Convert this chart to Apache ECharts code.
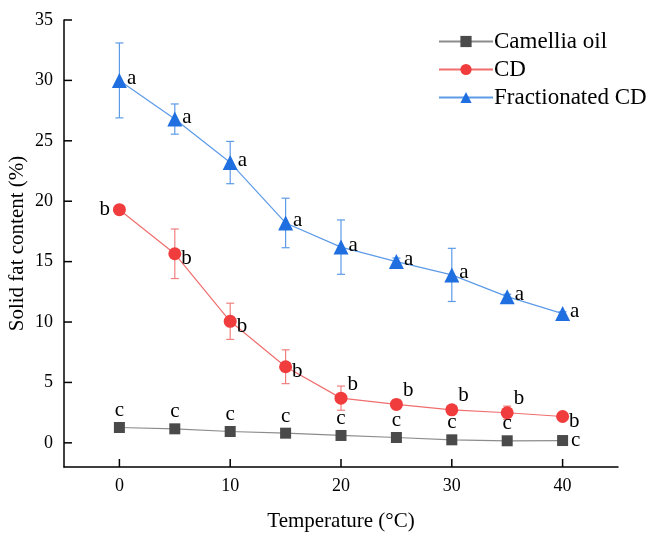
<!DOCTYPE html>
<html>
<head>
<meta charset="utf-8">
<script src="https://cdn.jsdelivr.net/npm/echarts@6/dist/echarts.min.js"></script>
<style>
  html, body { margin: 0; padding: 0; background: #fff; }
  #main { width: 649px; height: 535px; }
</style>
</head>
<body>
<div id="main"></div>
<script>
    var temps = [0, 5, 10, 15, 20, 25, 30, 35, 40];

    var camelliaVals = [1.27, 1.16, 0.94, 0.80, 0.61, 0.44, 0.25, 0.17, 0.19];
    var camelliaErr  = [0, 0, 0, 0, 0, 0, 0, 0, 0];
    var camelliaTags = ['c', 'c', 'c', 'c', 'c', 'c', 'c', 'c', 'c'];

    var cdVals = [19.3, 15.65, 10.06, 6.3, 3.7, 3.18, 2.73, 2.49, 2.18];
    var cdErr  = [0.15, 2.05, 1.5, 1.4, 1.0, 0.4, 0.15, 0.55, 0.1];
    var cdTags = ['b', 'b', 'b', 'b', 'b', 'b', 'b', 'b', 'b'];

    var fracVals = [30.0, 26.8, 23.2, 18.2, 16.2, 15.0, 13.9, 12.1, 10.7];
    var fracErr  = [3.1, 1.25, 1.75, 2.05, 2.25, 0.3, 2.2, 0.2, 0.15];
    var fracTags = ['a', 'a', 'a', 'a', 'a', 'a', 'a', 'a', 'a'];

    var xTicks = [0, 10, 20, 30, 40];
    var yTicks = [0, 5, 10, 15, 20, 25, 30, 35];
    var xMin = -5, xMax = 45;
    var yMin = -2, yMax = 35;

    var serif = 'Liberation Serif';
    var chart = echarts.init(document.getElementById('main'));

    // label placement for each series point
    function tagPos(name, i) {
        if (name === 'a') return { position: 'right', offset: [-3, -2] };
        if (name === 'b') {
            if (i === 0) return { position: 'left', offset: [0, 0] };
            if (i >= 4 && i <= 7) return { position: 'right', offset: [-3, -14] };
            return { position: 'right', offset: [-3, 5] };
        }
        if (i === 8) return { position: 'right', offset: [0, 0] };
        return { position: 'top', offset: [0, 2] };
    }

    function buildPoints(vals, tags) {
        return temps.map(function (t, i) {
            var p = tagPos(tags[i], i);
            return {
                value: [t, vals[i]],
                label: {
                    show: true,
                    formatter: tags[i],
                    position: p.position,
                    offset: p.offset,
                    distance: 3,
                    color: '#000',
                    fontFamily: serif,
                    fontSize: 21
                }
            };
        });
    }

    function buildErr(vals, errs) {
        return temps.map(function (t, i) {
            return [t, vals[i] - errs[i], vals[i] + errs[i]];
        }).filter(function (d) { return d[2] - d[1] > 0.001; });
    }

    function errSeries(vals, errs, color) {
        return {
            type: 'custom',
            silent: true,
            z: 1,
            data: buildErr(vals, errs),
            renderItem: function (params, api) {
                var lo = api.coord([api.value(0), api.value(1)]);
                var hi = api.coord([api.value(0), api.value(2)]);
                var w = 4;
                var st = { stroke: color, lineWidth: 1.2 };
                return {
                    type: 'group',
                    children: [
                        { type: 'line', shape: { x1: lo[0], y1: lo[1], x2: hi[0], y2: hi[1] }, style: st },
                        { type: 'line', shape: { x1: lo[0] - w, y1: lo[1], x2: lo[0] + w, y2: lo[1] }, style: st },
                        { type: 'line', shape: { x1: hi[0] - w, y1: hi[1], x2: hi[0] + w, y2: hi[1] }, style: st }
                    ]
                };
            }
        };
    }

    // inward ticks, placed through the axes' own scale (axisTick would not draw here)
    function tickSeries(points, dx, dy) {
        return {
            type: 'custom',
            silent: true,
            z: 2,
            clip: false,
            data: points,
            renderItem: function (params, api) {
                var p = api.coord([api.value(0), api.value(1)]);
                return {
                    type: 'line',
                    shape: { x1: p[0], y1: p[1], x2: p[0] + dx, y2: p[1] + dy },
                    style: { stroke: '#000', lineWidth: 1.5 }
                };
            }
        };
    }

    var lineSt = { color: '#000', width: 1.5 };

    chart.setOption({
        animation: false,
        grid: { left: 64, right: 31, top: 20, bottom: 68, outerBoundsMode: 'none' },
        legend: {
            orient: 'vertical',
            left: 433,
            top: 25,
            itemWidth: 54,
            itemHeight: 14,
            itemGap: 5,
            data: ['Camellia oil', 'CD', 'Fractionated CD'],
            textStyle: { fontFamily: serif, fontSize: 23, color: '#000', padding: [0, 0, 0, -4] }
        },
        xAxis: {
            type: 'value',
            min: xMin,
            max: xMax,
            name: 'Temperature (°C)',
            nameLocation: 'middle',
            nameGap: 44,
            nameMoveOverlap: false,
            nameTextStyle: { fontFamily: serif, fontSize: 21, color: '#000' },
            axisLine: { show: true, onZero: false, lineStyle: lineSt },
            axisTick: { show: false },
            axisLabel: { margin: 10, customValues: xTicks, fontFamily: serif, fontSize: 18, color: '#000' },
            splitLine: { show: false }
        },
        yAxis: {
            type: 'value',
            min: yMin,
            max: yMax,
            name: 'Solid fat content (%)',
            nameLocation: 'middle',
            nameGap: 36,
            nameMoveOverlap: false,
            nameTextStyle: { fontFamily: serif, fontSize: 21, color: '#000' },
            axisLine: { show: true, onZero: false, lineStyle: lineSt },
            axisTick: { show: false },
            axisLabel: { margin: 11, customValues: yTicks, fontFamily: serif, fontSize: 18, color: '#000' },
            splitLine: { show: false }
        },
        series: [
            tickSeries(xTicks.map(function (v) { return [v, yMin]; }), 0, -8),
            tickSeries(yTicks.map(function (v) { return [xMin, v]; }), 8, 0),
            errSeries(camelliaVals, camelliaErr, '#8a8a8a'),
            errSeries(cdVals, cdErr, '#f08080'),
            errSeries(fracVals, fracErr, '#5d9be8'),
            {
                name: 'Camellia oil',
                type: 'line',
                z: 3,
                symbol: 'rect',
                symbolSize: 11,
                itemStyle: { color: '#4a4a4a' },
                lineStyle: { color: '#8c8c8c', width: 1.2 },
                data: buildPoints(camelliaVals, camelliaTags)
            },
            {
                name: 'CD',
                type: 'line',
                z: 3,
                symbol: 'circle',
                symbolSize: 13,
                itemStyle: { color: '#f03c3c' },
                lineStyle: { color: '#f06e6e', width: 1.2 },
                data: buildPoints(cdVals, cdTags)
            },
            {
                name: 'Fractionated CD',
                type: 'line',
                z: 3,
                symbol: 'triangle',
                symbolSize: 15,
                itemStyle: { color: '#1f6fe0' },
                lineStyle: { color: '#5d9be8', width: 1.2 },
                data: buildPoints(fracVals, fracTags)
            }
        ]
    });
</script>
</body>
</html>
